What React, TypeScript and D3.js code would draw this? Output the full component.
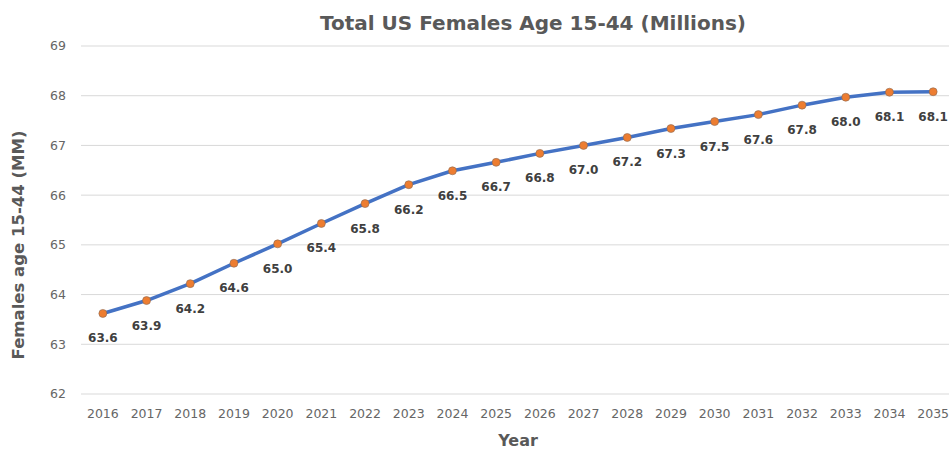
import React from "react";
import * as d3 from "d3";

const years = ["2016","2017","2018","2019","2020","2021","2022","2023","2024","2025","2026","2027","2028","2029","2030","2031","2032","2033","2034","2035"];
const values = [63.62,63.88,64.22,64.63,65.02,65.43,65.83,66.21,66.49,66.66,66.84,67.0,67.16,67.34,67.48,67.62,67.81,67.97,68.07,68.08];
const yTicks = [62,63,64,65,66,67,68,69];

const W = 949, H = 454;
const FONT = "'DejaVu Sans', sans-serif";

export default function App() {
  const x = d3.scaleBand<string>().domain(years).range([81, 955]);
  const y = d3.scaleLinear().domain([62, 69]).range([394, 46]);
  const cx = (d: string) => (x(d) as number) + x.bandwidth() / 2;
  const line = d3.line<number>().x((_, i) => cx(years[i])).y(v => y(v));
  return (
    <svg width={W} height={H} style={{ position: "absolute", left: 0, top: 0, background: "#fff" }}>
      <text x={533} y={30} textAnchor="middle" fontFamily={FONT} fontWeight="bold" fontSize={20} fill="#595959">Total US Females Age 15-44 (Millions)</text>
      {yTicks.map(t => (
        <g key={t}>
          <line x1={81} x2={W} y1={y(t)} y2={y(t)} stroke="#d9d9d9" strokeWidth={1} />
          <text x={66} y={y(t)} dy="0.35em" textAnchor="end" fontFamily={FONT} fontSize={12.5} fill="#666">{t}</text>
        </g>
      ))}
      {years.map(yr => (
        <text key={yr} x={cx(yr)} y={418} textAnchor="middle" fontFamily={FONT} fontSize={12.5} fill="#666">{yr}</text>
      ))}
      <path d={line(values) || ""} fill="none" stroke="#4472C4" strokeWidth={3.5} strokeLinejoin="round" />
      {values.map((v, i) => (
        <g key={i}>
          <circle cx={cx(years[i])} cy={y(v)} r={4} fill="#ED7D31" stroke="#8a6a55" strokeWidth={0.6} />
          <text x={cx(years[i])} y={y(v) + 29} textAnchor="middle" fontFamily={FONT} fontWeight="bold" fontSize={12} fill="#404040">{v.toFixed(1)}</text>
        </g>
      ))}
      <text x={518} y={446} textAnchor="middle" fontFamily={FONT} fontWeight="bold" fontSize={16} fill="#595959">Year</text>
      <text transform={`translate(24,245) rotate(-90)`} textAnchor="middle" fontFamily={FONT} fontWeight="bold" fontSize={16.5} fill="#595959">Females age 15-44 (MM)</text>
    </svg>
  );
}
